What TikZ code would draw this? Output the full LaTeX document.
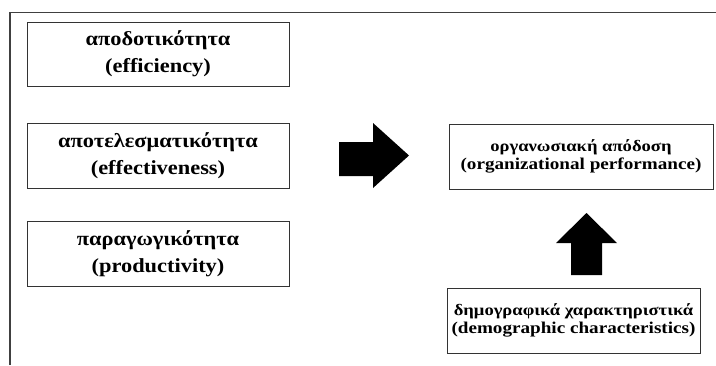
\documentclass[tikz,border=0pt]{standalone}
\usepackage{fontspec}
\setmainfont{Liberation Serif}[FakeStretch=1.12]
\newfontfamily\sidefont{Liberation Serif}[FakeStretch=1.16]
\newcommand{\greekline}[1]{{\fontsize{16}{18.5}\selectfont #1}}
\begin{document}
\begin{tikzpicture}[x=1pt,y=-1pt,
  box/.style={draw=black!80,line width=0.9pt,rectangle,inner sep=0pt,align=center},
  bigtext/.style={font=\fontsize{20}{27}\selectfont\bfseries},
  smalltext/.style={font=\sidefont\fontsize{16.5}{18.5}\selectfont\bfseries},
  blockarrow/.style={fill=black}]
\useasboundingbox (0,0) rectangle (716,365);
% open outer frame
\draw[black!75,line width=1.4pt] (10,365) -- (10,12.5) -- (716,12.5);
% factor boxes
\node[box,bigtext,minimum width=262,minimum height=64] (eff) at (158,54)
  {αποδοτικότητα\\(efficiency)};
\node[box,bigtext,minimum width=262,minimum height=65] (effv) at (158,155.5)
  {αποτελεσματικότητα\\(effectiveness)};
\node[box,bigtext,minimum width=262,minimum height=65] (prod) at (158,253.5)
  {παραγωγικότητα\\(productivity)};
% outcome and moderator boxes
\node[box,smalltext,minimum width=264,minimum height=65] (perf) at (581,156.5)
  {\greekline{οργανωσιακή απόδοση}\\(organizational performance)};
\node[box,smalltext,minimum width=253,minimum height=65] (demo) at (573.5,320.5)
  {\greekline{δημογραφικά χαρακτηριστικά}\\(demographic characteristics)};
% block arrows
\fill[blockarrow] (339,142) -- (373,142) -- (373,123) -- (409,155.5)
  -- (373,188) -- (373,176) -- (339,176) -- cycle;
\fill[blockarrow] (571,275) -- (571,243) -- (556,243) -- (586.5,213)
  -- (617,243) -- (602,243) -- (602,275) -- cycle;
\end{tikzpicture}
\end{document}
